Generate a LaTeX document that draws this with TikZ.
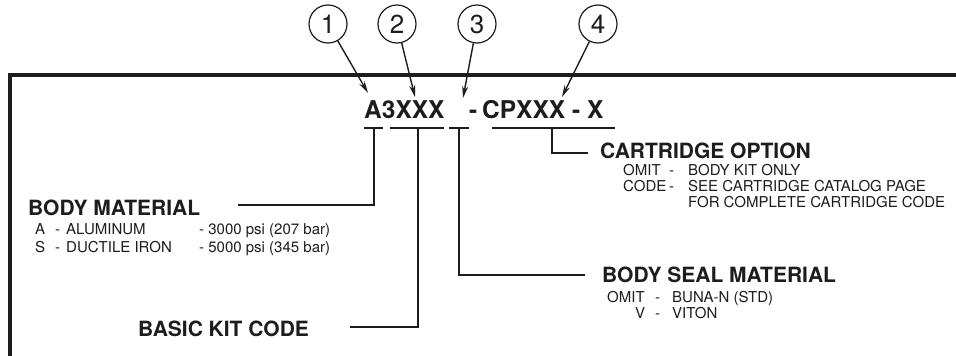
\documentclass[tikz,border=0pt]{standalone}
\usepackage{fontspec}
\setmainfont{TeX Gyre Heros}
\usetikzlibrary{arrows.meta}
\definecolor{ink}{RGB}{30,28,29}
\begin{document}
\begin{tikzpicture}[x=1pt,y=-1pt,color=ink,
  txt/.style={inner sep=0pt, anchor=base west, font=\fontsize{15}{16}\selectfont},
  head/.style={inner sep=0pt, anchor=base west, font=\fontsize{21}{22}\selectfont\bfseries},
  codetxt/.style={inner sep=0pt, anchor=base west, font=\fontsize{24.5}{26}\selectfont\bfseries},
  num/.style={circle, draw, line width=1.2pt, minimum size=38pt, inner sep=0pt, font=\fontsize{26}{28}\selectfont},
  ptr/.style={line width=1.4pt, -{Stealth[length=12pt,width=6pt]}},
  brk/.style={line width=1.3pt},
  boxline/.style={line width=4pt}]
\useasboundingbox[fill=white] (0,0) rectangle (956,356);

% frame
\coordinate (fbl) at (10.3,360);
\coordinate (ftl) at (10.3,75.3);
\coordinate (ftr) at (960,75.3);
\draw[boxline] (fbl) -- (ftl) -- (ftr);

% circles
\node[num] (c1) at (328,24) {1};
\node[num] (c2) at (397,24) {2};
\node[num] (c3) at (477,24) {3};
\node[num] (c4) at (598,24) {4};

% arrow tips
\coordinate (t1) at (368,93);
\coordinate (t2) at (415,97);
\coordinate (t3) at (463,98);
\coordinate (t4) at (562,97);
\draw[ptr] (c1) -- (t1);
\draw[ptr] (c2) -- (t2);
\draw[ptr] (c3) -- (t3);
\draw[ptr] (c4) -- (t4);

% code
\node[codetxt] (ca) at (364,118) {A3XXX};
\node[codetxt] (cd) at (469,118) {-};
\node[codetxt] (cb) at (482,118) {CPXXX - X};

% underline segments
\coordinate (s1a) at (364,128); \coordinate (s1b) at (383,128);
\coordinate (s2a) at (390,128); \coordinate (s2b) at (444,128);
\coordinate (s3a) at (449,128); \coordinate (s3b) at (469,128);
\coordinate (s4a) at (492,128); \coordinate (s4b) at (615,128);
\draw[brk] (s1a) -- (s1b);
\draw[brk] (s2a) -- (s2b);
\draw[brk] (s3a) -- (s3b);
\draw[brk] (s4a) -- (s4b);

\coordinate (u1) at (374,128); \coordinate (e1) at (238,205);
\coordinate (u2) at (418,128); \coordinate (e2) at (350,327);
\coordinate (u3) at (459,128); \coordinate (e3) at (585,275);
\coordinate (u4) at (552,128); \coordinate (e4) at (588,153);
\draw[brk] (u1) |- (e1);
\draw[brk] (u2) |- (e2);
\draw[brk] (u3) |- (e3);
\draw[brk] (u4) |- (e4);

% BODY MATERIAL
\node[head] (bm) at (28,215) {BODY MATERIAL};
\node[txt] at (35,234) {A};
\node[txt] at (55,234) {-};
\node[txt] at (66,234) {ALUMINUM};
\node[txt] at (199,234) {- 3000 psi (207 bar)};
\node[txt] at (35,252) {S};
\node[txt] at (55,252) {-};
\node[txt] at (66,252) {DUCTILE IRON};
\node[txt] at (199,252) {- 5000 psi (345 bar)};

% BASIC KIT CODE
\node[head] (bk) at (138,336) {BASIC KIT CODE};

% BODY SEAL MATERIAL
\node[head] (bs) at (602,282) {BODY SEAL MATERIAL};
\node[txt] at (607,302) {OMIT};
\node[txt] at (655,302) {-};
\node[txt] at (672,302) {BUNA-N (STD)};
\node[txt] at (635,318) {V};
\node[txt] at (655,318) {-};
\node[txt] at (672,318) {VITON};

% CARTRIDGE OPTION
\node[head] (co) at (600,158) {CARTRIDGE OPTION};
\node[txt] at (623,175) {OMIT};
\node[txt] at (669,175) {-};
\node[txt] at (688,175) {BODY KIT ONLY};
\node[txt] at (623,191) {CODE};
\node[txt] at (669,191) {-};
\node[txt] at (688,191) {SEE CARTRIDGE CATALOG PAGE};
\node[txt] at (688,207) {FOR COMPLETE CARTRIDGE CODE};
\end{tikzpicture}
\end{document}
